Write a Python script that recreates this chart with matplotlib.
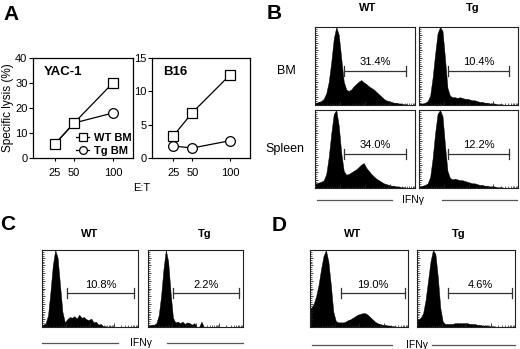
import numpy as np
import matplotlib
matplotlib.use("Agg")
import matplotlib.pyplot as plt
from matplotlib.lines import Line2D

plt.rcParams['font.family'] = ['Liberation Sans', 'DejaVu Sans']

# ---------------- Panel A data ----------------
et_ratio = [25, 50, 100]
yac_wt = [5.5, 14, 30]
yac_tg = [5.5, 14, 18]
b16_wt = [3.3, 6.8, 12.5]
b16_tg = [1.8, 1.5, 2.6]
yac_yticks = [0, 10, 20, 30, 40]
b16_yticks = [0, 5, 10, 15]

# ---------------- Histogram data (40 bins over 4 log decades, relative height) ----------------
hist_b_wt_bm = [0.03, 0.04, 0.05, 0.08, 0.15, 0.30, 0.55, 0.85, 1.00, 0.90,
                0.60, 0.30, 0.20, 0.18, 0.20, 0.24, 0.27, 0.30, 0.32, 0.29,
                0.27, 0.24, 0.22, 0.20, 0.17, 0.14, 0.11, 0.08, 0.06, 0.05,
                0.04, 0.03, 0.03, 0.02, 0.02, 0.01, 0.01, 0.0, 0.0, 0.0]
hist_b_tg_bm = [0.02, 0.02, 0.03, 0.05, 0.12, 0.35, 0.65, 0.92, 1.00, 0.95,
                0.60, 0.22, 0.12, 0.10, 0.10, 0.09, 0.10, 0.09, 0.08, 0.08,
                0.07, 0.06, 0.06, 0.05, 0.04, 0.04, 0.03, 0.03, 0.02, 0.02,
                0.02, 0.01, 0.01, 0.01, 0.0, 0.0, 0.0, 0.0, 0.0, 0.0]
hist_b_wt_sp = [0.06, 0.07, 0.08, 0.10, 0.18, 0.40, 0.70, 0.95, 1.00, 0.80,
                0.45, 0.22, 0.17, 0.18, 0.20, 0.22, 0.24, 0.27, 0.30, 0.32,
                0.26, 0.22, 0.18, 0.15, 0.12, 0.10, 0.08, 0.06, 0.05, 0.04,
                0.03, 0.03, 0.02, 0.02, 0.01, 0.01, 0.0, 0.0, 0.0, 0.0]
hist_b_tg_sp = [0.02, 0.03, 0.04, 0.06, 0.14, 0.38, 0.70, 0.95, 1.00, 0.92,
                0.55, 0.22, 0.13, 0.11, 0.12, 0.11, 0.10, 0.10, 0.09, 0.08,
                0.07, 0.06, 0.06, 0.05, 0.04, 0.04, 0.03, 0.03, 0.02, 0.02,
                0.02, 0.01, 0.01, 0.01, 0.0, 0.0, 0.0, 0.0, 0.0, 0.0]
hist_c_wt = [0.03, 0.05, 0.15, 0.45, 0.80, 1.00, 0.90, 0.55, 0.20, 0.06,
             0.10, 0.13, 0.12, 0.14, 0.11, 0.16, 0.12, 0.13, 0.10, 0.09,
             0.11, 0.06, 0.07, 0.03, 0.04, 0.01, 0.01, 0.0, 0.01, 0.0,
             0.0, 0.0, 0.0, 0.0, 0.0, 0.0, 0.0, 0.0, 0.0, 0.0]
hist_c_tg = [0.02, 0.03, 0.03, 0.05, 0.15, 0.40, 0.75, 1.00, 0.85, 0.45,
             0.12, 0.06, 0.07, 0.05, 0.07, 0.04, 0.06, 0.05, 0.03, 0.05,
             0.0, 0.0, 0.07, 0.0, 0.0, 0.0, 0.0, 0.0, 0.0, 0.0,
             0.0, 0.0, 0.0, 0.0, 0.0, 0.0, 0.0, 0.0, 0.0, 0.0]
hist_d_wt = [0.25, 0.30, 0.40, 0.55, 0.75, 0.92, 1.00, 0.85, 0.55, 0.20,
             0.08, 0.06, 0.06, 0.06, 0.07, 0.09, 0.10, 0.12, 0.14, 0.16,
             0.17, 0.18, 0.18, 0.16, 0.13, 0.10, 0.07, 0.05, 0.04, 0.03,
             0.03, 0.02, 0.02, 0.01, 0.01, 0.0, 0.0, 0.0, 0.0, 0.0]
hist_d_tg = [0.10, 0.12, 0.18, 0.35, 0.60, 0.85, 1.00, 0.95, 0.65, 0.25,
             0.07, 0.04, 0.04, 0.04, 0.04, 0.05, 0.05, 0.05, 0.05, 0.05,
             0.05, 0.04, 0.04, 0.04, 0.03, 0.03, 0.02, 0.02, 0.02, 0.01,
             0.01, 0.01, 0.0, 0.0, 0.0, 0.0, 0.0, 0.0, 0.0, 0.0]

# gate (bracket) limits in decades and labels
gate_b = (1.17, 3.64)
gate_c = (1.05, 3.82)
gate_d = (1.27, 3.88)
pct_b_bm = ["31.4%", "10.4%"]
pct_b_sp = ["34.0%", "12.2%"]
pct_c = ["10.8%", "2.2%"]
pct_d = ["19.0%", "4.6%"]

W, H = 520.0, 349.0
fig = plt.figure(figsize=(5.2, 3.49), dpi=100)


def rect(l, t, r, b):
    return [l / W, 1 - b / H, (r - l) / W, (b - t) / H]


def fx(x):
    return x / W


def fy(y):
    return 1 - y / H


# ---------------- Panel A ----------------
def lysis_axes(r, wt, tg, yticks, title):
    ax = fig.add_axes(rect(*r))
    ax.plot(et_ratio, tg, color='black', lw=0.9, marker='o', ms=7,
            mfc='white', mec='black', mew=0.9, label='Tg BM', zorder=2)
    ax.plot(et_ratio, wt, color='black', lw=0.9, marker='s', ms=7.5,
            mfc='white', mec='black', mew=0.9, label='WT BM', zorder=3)
    ax.set_xlim(-3, 126)
    ax.set_ylim(yticks[0], yticks[-1])
    ax.set_xticks(et_ratio)
    ax.set_yticks(yticks)
    ax.tick_params(axis='y', direction='out', length=3, width=0.8, pad=1,
                   labelsize=8)
    ax.tick_params(axis='x', direction='out', length=2.5, width=0.8, pad=5,
                   labelsize=8)
    for s in ax.spines.values():
        s.set_linewidth(0.9)
    ax.text(0.11, 0.86, title, transform=ax.transAxes, fontsize=9.5,
            fontweight='bold', va='center', ha='left')
    return ax


ax1 = lysis_axes((33, 58, 133, 158), yac_wt, yac_tg, yac_yticks, "YAC-1")
ax2 = lysis_axes((152, 58, 250, 158), b16_wt, b16_tg, b16_yticks, "B16")
h, l = ax1.get_legend_handles_labels()
ax1.legend(h[::-1], l[::-1], loc='lower right', frameon=False,
           prop={'weight': 'bold', 'size': 8}, handlelength=1.1,
           handletextpad=0.45, labelspacing=0.3, borderpad=0.0,
           borderaxespad=0.15, markerscale=0.8)

fig.text(fx(142), fy(188), "E:T", fontsize=8, ha='center', va='center')
fig.text(fx(8), fy(108), "Specific lysis (%)", fontsize=8.5, rotation=90,
         ha='center', va='center')

# ---------------- Histogram helper ----------------
centers = np.linspace(0.05, 3.95, 40)


def hist_axes(r, heights, gate, label, bar_y=0.44):
    ax = fig.add_axes(rect(*r))
    xs = np.concatenate([[0.0], centers, [4.0]])
    ys = np.concatenate([[heights[0]], heights, [heights[-1]]])
    ax.fill_between(xs, ys, color='black', lw=0.3, edgecolor='black')
    ax.set_xlim(0, 4)
    ax.set_ylim(0, 1.0)
    ax.set_xticks([0, 1, 2, 3, 4])
    minors = [d + np.log10(k) for d in range(4) for k in range(2, 10)]
    ax.set_xticks(minors, minor=True)
    ax.set_yticks(np.linspace(0, 1, 11))
    ax.set_yticks(np.linspace(0, 1, 41), minor=True)
    ax.tick_params(which='major', direction='in', length=2.5, width=0.6,
                   labelbottom=False, labelleft=False, color='#222222')
    ax.tick_params(which='minor', direction='in', length=1.3, width=0.5,
                   color='#222222')
    ax.tick_params(axis='x', which='major', length=3)
    for s in ax.spines.values():
        s.set_linewidth(0.8)
        s.set_color('#222222')
    g0, g1 = gate
    c = '#333333'
    ax.plot([g0, g1], [bar_y, bar_y], color=c, lw=0.9)
    ax.plot([g0, g0], [bar_y - 0.065, bar_y + 0.065], color=c, lw=0.9)
    ax.plot([g1, g1], [bar_y - 0.065, bar_y + 0.065], color=c, lw=0.9)
    ax.text((g0 + g1) / 2, bar_y + 0.11, label, fontsize=8,
            ha='center', va='center')
    return ax


# ---------------- Panel B ----------------
hist_axes((315, 27, 415, 105), hist_b_wt_bm, gate_b, pct_b_bm[0])
hist_axes((419, 27, 518, 105), hist_b_tg_bm, gate_b, pct_b_bm[1])
hist_axes((315, 110, 415, 188), hist_b_wt_sp, gate_b, pct_b_sp[0])
hist_axes((419, 110, 518, 188), hist_b_tg_sp, gate_b, pct_b_sp[1])

# ---------------- Panel C ----------------
hist_axes((42, 250, 138, 327), hist_c_wt, gate_c, pct_c[0])
hist_axes((148, 250, 243, 327), hist_c_tg, gate_c, pct_c[1])

# ---------------- Panel D ----------------
hist_axes((310, 250, 408, 327), hist_d_wt, gate_d, pct_d[0])
hist_axes((417, 250, 515, 327), hist_d_tg, gate_d, pct_d[1])

# ---------------- Text labels ----------------
for letter, x, y in [("A", 11, 14), ("B", 274, 13.5), ("C", 8, 225), ("D", 279, 225.5)]:
    fig.text(fx(x), fy(y), letter, fontsize=15, fontweight='bold',
             ha='center', va='center')

for txt, x, y in [("WT", 368, 10.7), ("Tg", 473, 10.7),
                  ("WT", 90, 236.7), ("Tg", 205, 236.7),
                  ("WT", 352.5, 236.7), ("Tg", 459, 236.7)]:
    fig.text(fx(x), fy(y), txt, fontsize=8, fontweight='bold',
             ha='center', va='baseline')

fig.text(fx(286.7), fy(74), "BM", fontsize=9, ha='center', va='baseline')
fig.text(fx(285), fy(151.7), "Spleen", fontsize=9, ha='center', va='baseline')


def ifn_label(xc, y, l0, l1, r0, r1):
    fig.text(fx(xc), fy(y), "IFNγ", fontsize=7.5, ha='center', va='center')
    for a, b in [(l0, l1), (r0, r1)]:
        fig.add_artist(Line2D([fx(a), fx(b)], [fy(y), fy(y)],
                              color='#555555', lw=0.9))


ifn_label(413, 200, 317, 392, 442, 517)
ifn_label(141, 343, 42, 118, 167, 243)
ifn_label(417, 345, 312, 392, 432, 515)

fig.savefig("out.png", dpi=100)
